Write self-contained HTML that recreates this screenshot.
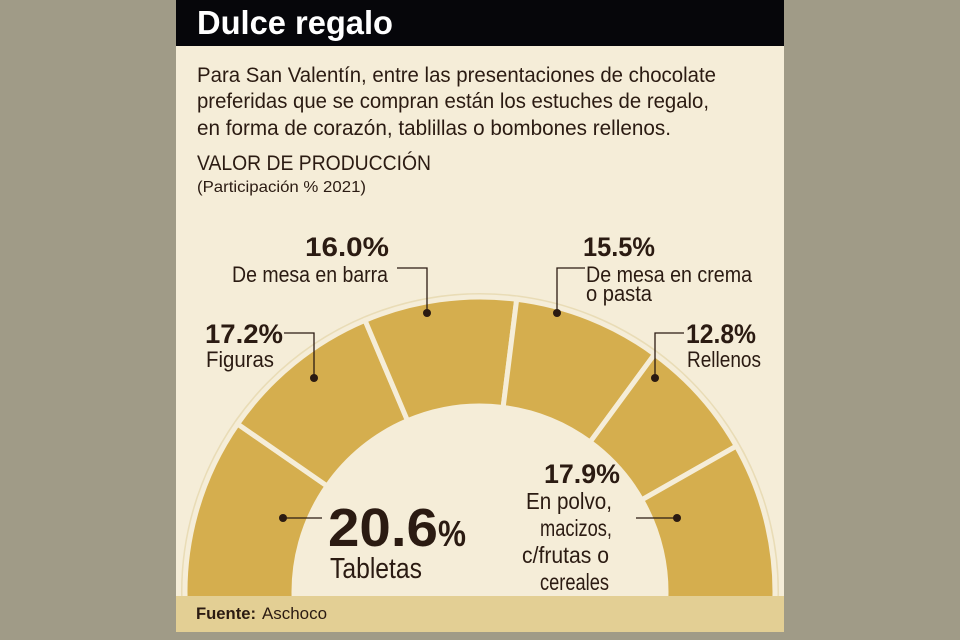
<!DOCTYPE html>
<html><head><meta charset="utf-8"><style>
html,body{margin:0;padding:0;background:#a09b87;}
svg{display:block;}
text{font-family:"Liberation Sans",sans-serif;fill:#2b1b12;}
</style></head><body>
<svg id="s" width="960" height="640" viewBox="0 0 960 640" xmlns="http://www.w3.org/2000/svg">
<rect x="0" y="0" width="960" height="640" fill="#a09b87"/>
<rect x="176" y="0" width="608" height="632" fill="#f5edd8"/>
<rect x="176" y="0" width="608" height="46" fill="#06060a"/>
<text x="197" y="34" font-size="33" font-weight="bold" style="fill:#fff" textLength="196" lengthAdjust="spacingAndGlyphs">Dulce regalo</text>
<text x="197" y="82" font-size="21" textLength="519" lengthAdjust="spacingAndGlyphs">Para San Valentín, entre las presentaciones de chocolate</text>
<text x="197" y="108" font-size="21" textLength="512" lengthAdjust="spacingAndGlyphs">preferidas que se compran están los estuches de regalo,</text>
<text x="197" y="135" font-size="21" textLength="474" lengthAdjust="spacingAndGlyphs">en forma de corazón, tablillas o bombones rellenos.</text>
<text x="197" y="170" font-size="21" textLength="234" lengthAdjust="spacingAndGlyphs">VALOR DE PRODUCCIÓN</text>
<text x="197" y="192" font-size="16" textLength="169" lengthAdjust="spacingAndGlyphs">(Participación % 2021)</text>
<g id="arc"></g>
<g stroke="#2b1b12" stroke-width="1.3" fill="none">
<polyline points="284,333 314,333 314,377"/>
<polyline points="397,268 427,268 427,313"/>
<polyline points="585,268 557,268 557,313"/>
<polyline points="684,333 655,333 655,377"/>
<line x1="283" y1="518" x2="322" y2="518"/>
<line x1="636" y1="518" x2="677" y2="518"/>
</g>
<g fill="#2b1b12">
<circle cx="314" cy="378" r="4"/><circle cx="427" cy="313" r="4"/><circle cx="557" cy="313" r="4"/><circle cx="655" cy="378" r="4"/><circle cx="283" cy="518" r="4"/><circle cx="677" cy="518" r="4"/>
</g>
<text x="305" y="256" font-size="27" font-weight="bold" textLength="84" lengthAdjust="spacingAndGlyphs">16.0%</text>
<text x="232" y="282" font-size="22" textLength="156" lengthAdjust="spacingAndGlyphs">De mesa en barra</text>
<text x="583" y="256" font-size="27" font-weight="bold" textLength="72" lengthAdjust="spacingAndGlyphs">15.5%</text>
<text x="586" y="282" font-size="22" textLength="166" lengthAdjust="spacingAndGlyphs">De mesa en crema</text>
<text x="586" y="301" font-size="22" textLength="66" lengthAdjust="spacingAndGlyphs">o pasta</text>
<text x="205" y="343" font-size="27" font-weight="bold" textLength="78" lengthAdjust="spacingAndGlyphs">17.2%</text>
<text x="206" y="367" font-size="22" textLength="68" lengthAdjust="spacingAndGlyphs">Figuras</text>
<text x="686" y="343" font-size="27" font-weight="bold" textLength="70" lengthAdjust="spacingAndGlyphs">12.8%</text>
<text x="687" y="367" font-size="22" textLength="74" lengthAdjust="spacingAndGlyphs">Rellenos</text>
<text x="544" y="483" font-size="27" font-weight="bold" textLength="76" lengthAdjust="spacingAndGlyphs">17.9%</text>
<text x="526" y="509" font-size="23" textLength="86" lengthAdjust="spacingAndGlyphs">En polvo,</text>
<text x="540" y="536" font-size="23" textLength="72" lengthAdjust="spacingAndGlyphs">macizos,</text>
<text x="522" y="563" font-size="23" textLength="87" lengthAdjust="spacingAndGlyphs">c/frutas o</text>
<text x="540" y="590" font-size="23" textLength="69" lengthAdjust="spacingAndGlyphs">cereales</text>
<text x="328" y="546" font-size="54" font-weight="bold" textLength="110" lengthAdjust="spacingAndGlyphs">20.6</text>
<text x="438" y="546" font-size="36" font-weight="bold" textLength="28" lengthAdjust="spacingAndGlyphs">%</text>
<text x="330" y="578" font-size="29" textLength="92" lengthAdjust="spacingAndGlyphs">Tabletas</text>
<rect x="176" y="596" width="608" height="36" fill="#e3cf94"/>
<text x="196" y="619" font-size="17" font-weight="bold" textLength="60" lengthAdjust="spacingAndGlyphs">Fuente:</text>
<text x="262" y="619" font-size="17" textLength="65" lengthAdjust="spacingAndGlyphs">Aschoco</text>
</svg>
<script>
(function(){
var cx=480,cy=592,R=295,r=186;
var vals=[20.6,17.2,16.0,15.5,12.8,17.9];
var g=document.getElementById('arc'),ns='http://www.w3.org/2000/svg';
var a=-4, k=188/100;
function pt(rad,deg){var t=Math.PI-deg*Math.PI/180;return [cx+rad*Math.cos(t),cy-rad*Math.sin(t)];}
function s(p){return p[0].toFixed(2)+' '+p[1].toFixed(2);}
var c=document.createElementNS(ns,'path');
var q1=pt(R+3,-4),q2=pt(R+3,184);
c.setAttribute('d','M'+s(q1)+' A'+(R+3)+' '+(R+3)+' 0 1 1 '+s(q2));
c.setAttribute('fill','none');c.setAttribute('stroke','#e9dcb6');c.setAttribute('stroke-width','2');
g.appendChild(c);
for(var i=0;i<vals.length;i++){
 var b=a+vals[i]*k;
 var p1=pt(R,a),p2=pt(R,b),p3=pt(r,b),p4=pt(r,a);
 var d='M'+s(p1)+' A'+R+' '+R+' 0 0 1 '+s(p2)+' L'+s(p3)+' A'+r+' '+r+' 0 0 0 '+s(p4)+' Z';
 var p=document.createElementNS(ns,'path');
 p.setAttribute('d',d);
 p.setAttribute('fill','#d5ae4e');p.setAttribute('stroke','#f5edd8');p.setAttribute('stroke-width','5');p.setAttribute('stroke-linejoin','round');
 g.appendChild(p);a=b;
}
})();
</script>
</body></html>
